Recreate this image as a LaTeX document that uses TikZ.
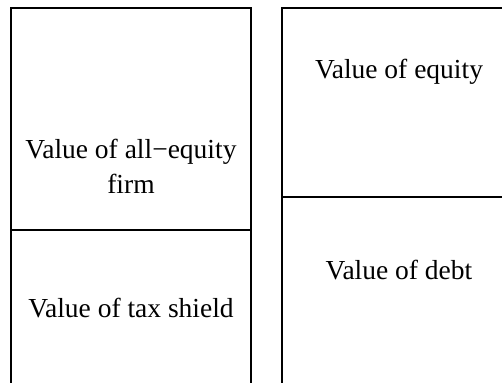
\documentclass[tikz,border=0pt]{standalone}
\usepackage{fontspec}
\setmainfont{Liberation Serif}
\begin{document}
\begin{tikzpicture}[x=1pt,y=-1pt,
  boxline/.style={line width=2.2pt,line cap=rect},
  lbl/.style={font=\fontsize{27.5}{35}\selectfont,align=center,inner sep=0pt}]
\useasboundingbox (0,0) rectangle (502,382);
% left box
\coordinate (lbl) at (11,400);
\coordinate (ltl) at (11,8);
\coordinate (ltr) at (251,8);
\coordinate (lbr) at (251,400);
\coordinate (ldl) at (11,230);
\coordinate (ldr) at (251,230);
\draw[boxline] (lbl) -- (ltl) -- (ltr) -- (lbr);
\draw[boxline] (ldl) -- (ldr);
% right box
\coordinate (rbl) at (282,400);
\coordinate (rtl) at (282,8);
\coordinate (rtr) at (530,8);
\coordinate (rdl) at (282,197);
\coordinate (rdr) at (530,197);
\draw[boxline] (rbl) -- (rtl) -- (rtr);
\draw[boxline] (rdl) -- (rdr);
% labels
\node[lbl] (allequity) at (131,166) {Value of all−equity\\firm};
\node[lbl] (taxshield) at (131,308) {Value of tax shield};
\node[lbl] (equity) at (399,72) {Value of equity};
\node[lbl] (debt) at (399,270) {Value of debt};
\end{tikzpicture}
\end{document}
